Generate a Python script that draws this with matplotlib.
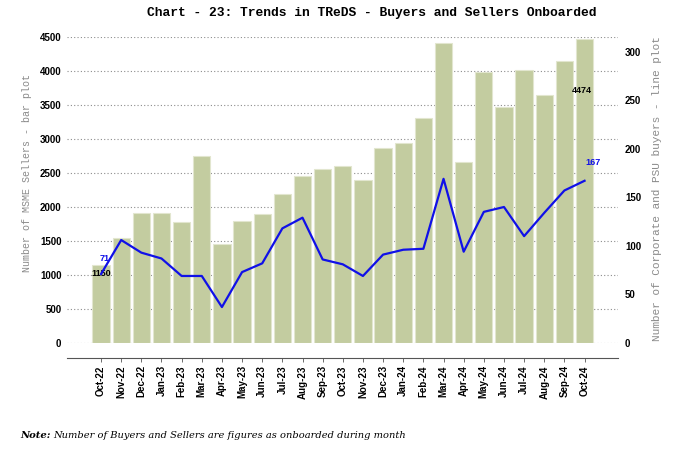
import matplotlib
matplotlib.use("Agg")
import matplotlib.pyplot as plt
import numpy as np

months = ["Oct-22", "Nov-22", "Dec-22", "Jan-23", "Feb-23", "Mar-23", "Apr-23", "May-23",
          "Jun-23", "Jul-23", "Aug-23", "Sep-23", "Oct-23", "Nov-23", "Dec-23", "Jan-24",
          "Feb-24", "Mar-24", "Apr-24", "May-24", "Jun-24", "Jul-24", "Aug-24", "Sep-24", "Oct-24"]
sellers = [1150, 1540, 1905, 1910, 1780, 2750, 1456, 1790, 1895, 2190, 2460, 2560, 2600,
           2400, 2870, 2936, 3315, 4407, 2657, 3988, 3466, 4020, 3643, 4143, 4474]
buyers = [71, 106, 93, 87, 69, 69, 37, 73, 82, 118, 129, 86, 81, 69, 91, 96, 97, 169,
          94, 135, 140, 110, 134, 157, 167]

W, H = 677, 449
fig = plt.figure(figsize=(W / 100, H / 100), dpi=100)
ax = fig.add_axes([67 / W, (H - 343) / H, 551 / W, 306 / H])
ax2 = ax.twinx()

x = np.arange(len(months))
ax.bar(x, sellers, width=0.86, color="#C3CCA0", edgecolor="#E2E6CF", linewidth=0.8, zorder=2)
ax.set_xlim(-1.69, 25.66)
ax.set_ylim(0, 4500)
ax.set_yticks(np.arange(0, 4501, 500))
ax.grid(axis="y", linestyle=(0, (1, 2)), color="#8c8c8c", linewidth=0.8, zorder=0)
ax.set_axisbelow(True)

ax2.plot(x, buyers, color="#1010E8", linewidth=1.6, zorder=3)
ax2.set_ylim(0, 315)
ax2.set_yticks(np.arange(0, 301, 50))

for a in (ax, ax2):
    for s in ("top", "left", "right"):
        a.spines[s].set_visible(False)
ax2.spines["bottom"].set_visible(False)
ax.spines["bottom"].set_position(("outward", 11))
ax.spines["bottom"].set_color("#555555")
ax.spines["bottom"].set_linewidth(0.8)

ax.set_xticks(x)
ax.set_xticklabels(months, rotation=90, fontsize=7, fontweight="bold",
                   fontfamily="Liberation Sans")
ax.tick_params(axis="x", length=3, width=0.6, color="#555555", pad=2)
ax.tick_params(axis="y", length=0, pad=4, labelsize=7)
ax2.tick_params(axis="y", length=0, pad=5, labelsize=7)
for lab in ax.get_yticklabels() + ax2.get_yticklabels():
    lab.set_fontweight("bold")
    lab.set_fontfamily("Liberation Sans")

ax.set_ylabel("Number of MSME Sellers - bar plot", fontfamily="Liberation Mono",
              fontsize=7.2, color="#8a8a8a")
ax.yaxis.set_label_coords((32 - 67) / 551, (343 - 173) / 306)
ax2.set_ylabel("Number of Corporate and PSU buyers - line plot", fontfamily="Liberation Mono",
               fontsize=8, color="#8a8a8a")
ax2.yaxis.set_label_coords((652 - 67) / 551, (343 - 189) / 306)

# annotations
ax.annotate(str(sellers[0]), (x[0], sellers[0]), xytext=(0, -4), textcoords="offset pixels",
            ha="center", va="top", fontsize=6.5, fontweight="bold", fontfamily="Liberation Sans",
            zorder=5)
ax.annotate(str(sellers[-1]), (x[-1], sellers[-1]), xytext=(-3, -52), textcoords="offset pixels",
            ha="center", va="center", fontsize=6.5, fontweight="bold", fontfamily="Liberation Sans",
            zorder=5)
ax2.annotate(str(buyers[0]), (x[0], buyers[0]), xytext=(4, 16), textcoords="offset pixels",
             ha="center", va="center", fontsize=6.5, fontweight="bold", color="#1010E8",
             fontfamily="Liberation Sans", zorder=5)
ax2.annotate(str(buyers[-1]), (x[-1], buyers[-1]), xytext=(8, 18), textcoords="offset pixels",
             ha="center", va="center", fontsize=6.5, fontweight="bold", color="#1010E8",
             fontfamily="Liberation Sans", zorder=5)

fig.text(372 / W, 1 - 13 / H, "Chart - 23: Trends in TReDS - Buyers and Sellers Onboarded",
         ha="center", va="center", fontfamily="Liberation Mono", fontweight="bold", fontsize=9.4)

t1 = fig.text(20 / W, 1 - 436 / H, "Note:", ha="left", va="center", fontfamily="DejaVu Serif",
              fontstyle="italic", fontweight="bold", fontsize=7.2)
fig.canvas.draw()
bb = t1.get_window_extent()
fig.text((bb.x1 + 3) / W, 1 - 436 / H,
         "Number of Buyers and Sellers are figures as onboarded during month",
         ha="left", va="center", fontfamily="DejaVu Serif", fontstyle="italic", fontsize=7.1)

fig.savefig("out.png", dpi=100)
